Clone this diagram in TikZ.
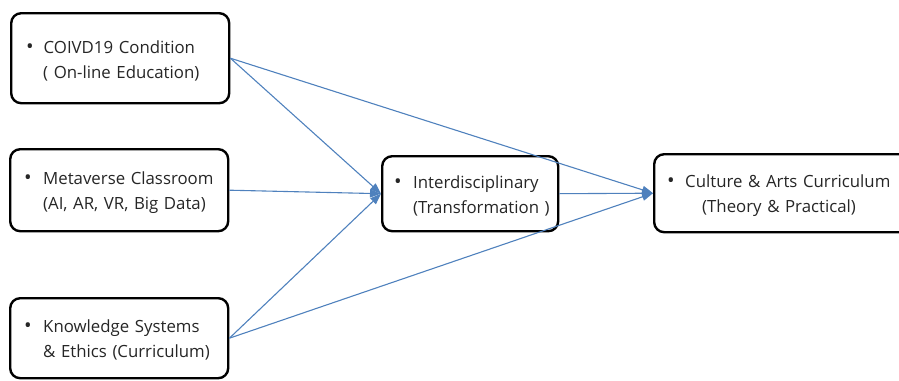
\documentclass[tikz,border=0pt]{standalone}
\usepackage{fontspec}
\setmainfont{Open Sans}
\usepackage{graphicx}
\usetikzlibrary{arrows.meta}
\definecolor{linkblue}{RGB}{79,129,189}
\begin{document}
\begin{tikzpicture}[x=1pt,y=-1pt,
  box/.style={draw=black, line width=2.4pt, rounded corners=10pt, fill=white,
    inner sep=0pt, anchor=north west},
  txt/.style={align=left, inner sep=0pt, anchor=west,
    font=\fontsize{16.8}{25}\selectfont, text=black!85},
  link/.style={draw=linkblue, line width=1.1pt, -{Triangle[length=11pt,width=8pt]}}]
\useasboundingbox (0,0) rectangle (899,380);
\clip (0,0) rectangle (899,380);
\newcommand{\bl}[1]{\makebox[#1][l]{\scalebox{1.2}{\textbullet}}}
% boxes
\node[box, minimum width=218pt, minimum height=90pt] (cov) at (10,12) {};
\node[box, minimum width=218pt, minimum height=82pt] (meta) at (9,148) {};
\node[box, minimum width=218pt, minimum height=80pt] (know) at (9,297) {};
\node[box, minimum width=176pt, minimum height=75pt] (inter) at (381,155) {};
\node[box, minimum width=262pt, minimum height=78pt] (cult) at (653,153) {};
% texts
\node[txt, text width=218pt] (covt) at ([yshift=-2.5pt]cov.west)
  {\hspace*{16pt}\bl{17.5pt}COIVD19 Condition\\\hspace*{33pt}( On-line Education)};
\node[txt, text width=218pt] (metat) at ([yshift=-2pt]meta.west)
  {\hspace*{15pt}\bl{19pt}Metaverse Classroom\\\hspace*{34pt}(AI, AR, VR, Big Data)};
\node[txt, text width=218pt] (knowt) at ([yshift=-2pt]know.west)
  {\hspace*{15pt}\bl{19pt}Knowledge Systems\\\hspace*{34pt}\& Ethics (Curriculum)};
\node[txt, text width=176pt] (intert) at ([yshift=-2pt]inter.west)
  {\hspace*{13pt}\bl{19pt}Interdisciplinary\\\hspace*{32pt}(Transformation )};
\node[txt, text width=262pt] (cultt) at ([yshift=-2pt]cult.west)
  {\hspace*{14pt}\bl{18pt}Culture \& Arts Curriculum\\\hspace*{49pt}(Theory \& Practical)};
% connectors
\draw[link] (cov.east) -- (inter.west);
\draw[link] (meta.east) -- (inter.west);
\draw[link] (know.east) -- (inter.west);
\draw[link] (cov.east) -- (cult.west);
\draw[link] (inter.east) -- (cult.west);
\draw[link] (know.east) -- (cult.west);
\end{tikzpicture}
\end{document}
